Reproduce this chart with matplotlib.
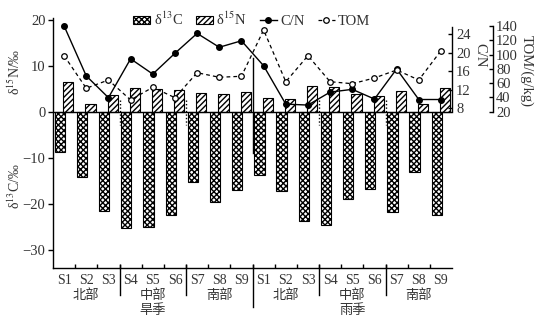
import matplotlib
matplotlib.use("Agg")
import matplotlib.pyplot as plt
import matplotlib.transforms as mtransforms
import numpy as np

plt.rcParams['font.family'] = ['Liberation Serif', 'DejaVu Serif']
plt.rcParams['mathtext.fontset'] = 'stix'
plt.rcParams['hatch.linewidth'] = 1.0
plt.rcParams['axes.linewidth'] = 1.0

# sampling sites, two seasons x three regions
sites = ['S1', 'S2', 'S3', 'S4', 'S5', 'S6', 'S7', 'S8', 'S9'] * 2
regions = ['北部', '中部', '南部'] * 2
seasons = ['旱季', '雨季']

d13c = [-8.7, -14.0, -21.4, -25.2, -24.9, -22.3, -15.1, -19.4, -16.9,
        -13.7, -17.0, -23.6, -24.4, -18.8, -16.7, -21.6, -13.0, -22.3]
d15n = [6.6, 1.8, 3.7, 5.3, 5.1, 4.8, 4.2, 4.0, 4.4,
        3.0, 2.9, 5.7, 5.4, 4.0, 3.5, 4.7, 1.8, 5.3]
cn = [25.8, 15.0, 10.3, 18.7, 15.4, 19.9, 24.2, 21.2, 22.6,
      17.2, 8.9, 8.7, 11.5, 12.1, 10.0, 16.5, 9.9, 9.9]
tom = [98.4, 52.8, 64.4, 36.4, 54.2, 39.6, 74.6, 68.2, 69.6,
       134.4, 62.0, 98.4, 62.0, 59.2, 67.2, 78.4, 64.4, 105.4]

txt = '#333333'
cjk = ['Noto Sans CJK SC', 'DejaVu Sans']

fig = plt.figure(figsize=(5.5, 3.23), dpi=100)
ax = fig.add_axes([0.0964, 0.1703, 0.7255, 0.7746])

x = np.arange(len(sites))
w = 0.46
b1 = ax.bar(x - 0.19, d13c, w, facecolor='white', edgecolor='black',
            linewidth=0.8, hatch='xxxxxx')
b2 = ax.bar(x + 0.19, d15n, w, facecolor='white', edgecolor='black',
            linewidth=0.8, hatch='//////')
ax.axhline(0, color='black', lw=1.0)

ax.set_xlim(-0.5, len(sites) - 0.5)
ax.set_ylim(-33.8, 20.47)
ax.set_yticks([-30, -20, -10, 0, 10, 20])
ax.spines['top'].set_visible(False)
ax.spines['right'].set_visible(False)
ax.tick_params(axis='y', direction='out', length=3.5, width=1,
               labelsize=10.5, labelcolor=txt, pad=2)

# tick marks between sites, labels at site centres
ax.set_xticks(np.arange(0.5, len(sites) - 1, 1.0))
ax.set_xticklabels([])
ax.tick_params(axis='x', which='major', direction='in', length=3, width=1)
ax.set_xticks(x, minor=True)
ax.set_xticklabels(sites, minor=True)
ax.tick_params(axis='x', which='minor', length=0, pad=4,
               labelsize=10, labelcolor=txt)

# region / season separators
trans = mtransforms.blended_transform_factory(ax.transData, ax.transAxes)
for xb in [2.5, 5.5, 11.5, 14.5]:
    ax.plot([xb, xb], [2.7, -2.8], color='black', lw=1.0, ls=(0, (1, 1.5)))
    ax.plot([xb, xb], [0.012, -0.108], color='black', lw=1.0,
            transform=trans, clip_on=False)
ax.plot([8.5, 8.5], [11.8, -8.8], color='black', lw=1.0)
ax.plot([8.5, 8.5], [0.012, -0.156], color='black', lw=1.0,
        transform=trans, clip_on=False)

for i, r in enumerate(regions):
    ax.text(3 * i + 1, -0.110, r, transform=trans, ha='center', va='center',
            fontsize=9.5, color=txt, family=cjk)
for i, s in enumerate(seasons):
    ax.text(9 * i + 4, -0.170, s, transform=trans, ha='center', va='center',
            fontsize=9.5, color=txt, family=cjk)

fig.text(0.027, 0.777, 'δ$^{15}$N/‰', rotation=90, ha='center', va='center',
         fontsize=10, color=txt)
fig.text(0.027, 0.425, 'δ$^{13}$C/‰', rotation=90, ha='center', va='center',
         fontsize=10, color=txt)

# C/N axis
ax2 = ax.twinx()
ax2.set_ylim(-26.53, 27.57)
l1, = ax2.plot(x, cn, color='black', lw=1.0, marker='o', ms=4,
               mfc='black', mec='black')
for s in ['top', 'left', 'bottom']:
    ax2.spines[s].set_visible(False)
ax2.spines['right'].set_bounds(7.26, 25.6)
ax2.set_yticks([8, 12, 16, 20, 24])
ax2.tick_params(axis='y', direction='in', length=3, width=1,
                labelsize=10.5, labelcolor=txt, pad=3)
fig.text(0.873, 0.830, 'C/N', rotation=270, ha='center', va='center',
         fontsize=10.5, color=txt)

# TOM axis
ax3 = ax.twinx()
ax3.set_ylim(-198.9, 151.5)
l2, = ax3.plot(x, tom, color='black', lw=0.9, ls=(0, (3, 2.5)), marker='o',
               ms=4, mfc='white', mec='black', mew=0.9)
for s in ['top', 'left', 'bottom']:
    ax3.spines[s].set_visible(False)
ax3.spines['right'].set_position(('axes', 1.1035))
ax3.spines['right'].set_bounds(20, 140)
ax3.set_yticks([20, 40, 60, 80, 100, 120, 140])
ax3.tick_params(axis='y', direction='in', length=3, width=1,
                labelsize=10.5, labelcolor=txt, pad=2)
fig.text(0.957, 0.780, 'TOM/(g/kg)', rotation=270, ha='center', va='center',
         fontsize=10.5, color=txt)

fig.legend([b1, b2, l1, l2], ['δ$^{13}$C', 'δ$^{15}$N', 'C/N', 'TOM'],
           loc='center', bbox_to_anchor=(0.458, 0.94), ncol=4, frameon=False,
           fontsize=10.5, handlelength=1.15, handleheight=0.45,
           handletextpad=0.25, columnspacing=0.9, labelcolor=txt,
           borderpad=0.2)

fig.savefig('out.png', dpi=100)
